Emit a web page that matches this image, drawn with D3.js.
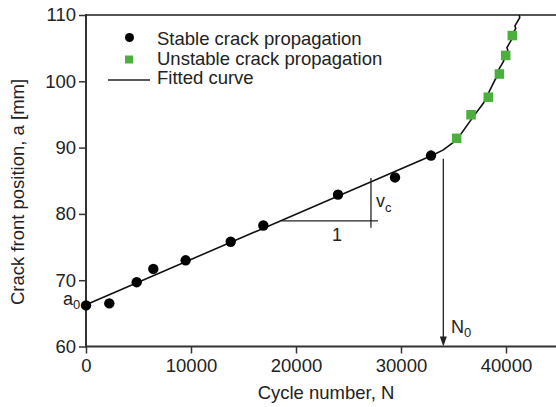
<!DOCTYPE html>
<html>
<head>
<meta charset="utf-8">
<script src="https://cdn.jsdelivr.net/npm/d3@7"></script>
<style>
  body { margin: 0; background: #fff; }
  text { font-family: "Liberation Sans", Arial, sans-serif; fill: #222; }
</style>
</head>
<body>
<div id="chart"></div>
<script>
// stable crack propagation (black dots)
const stableN = [0, 2220, 4830, 6410, 9490, 13780, 16890, 24000, 29430, 32860];
const stableA = [66.2, 66.5, 69.7, 71.7, 73.0, 75.8, 78.25, 82.9, 85.5, 88.8];

// unstable crack propagation (green squares)
const unstableN = [35300, 36670, 38310, 39370, 39970, 40600];
const unstableA = [91.4, 94.95, 97.6, 101.1, 103.9, 106.9];

// fitted curve, read point by point
const fitN = [0, 33000, 34030, 35300, 36890, 37840, 38480, 38950,
              39410, 39330, 39790, 39710, 40170, 40090, 40550, 40470, 40930, 40850, 41310, 41260];
const fitA = [66.3, 88.84, 89.65, 91.16, 94.67, 96.69, 98.7, 100.2,
              101.45, 101.83, 103.08, 103.46, 104.71, 105.09, 106.34, 106.72, 107.97, 108.35, 109.6, 110];

const xTicks = [0, 10000, 20000, 30000, 40000];
const yTicks = [60, 70, 80, 90, 100, 110];
const legendLabels = ["Stable crack propagation", "Unstable crack propagation", "Fitted curve"];

// slope triangle and N0 arrow, in data units
const slopeH = [[18640, 78.95], [27810, 78.95]];
const slopeV = [[27140, 85.43], [27140, 77.9]];
const arrowN0 = [[34030, 88.3], [34030, 60]];

function init() {
    const width = 556, height = 407;
    const margin = { top: 15, left: 86, bottom: 60.5 };

    const x = d3.scaleLinear().domain([0, 45000]).range([margin.left, margin.left + 472.5]);
    const y = d3.scaleLinear().domain([60, 110]).range([height - margin.bottom, margin.top]);

    const svg = d3.select("#chart").append("svg")
        .attr("width", width).attr("height", height);

    const ink = "#333";

    // top frame line
    svg.append("line")
        .attr("x1", x(0)).attr("x2", width)
        .attr("y1", y(110)).attr("y2", y(110))
        .attr("stroke", "#555").attr("stroke-width", 2);

    // x axis
    const gx = svg.append("g").attr("transform", `translate(0,${y(60)})`);
    gx.call(d3.axisBottom(x).tickValues(d3.range(0, 45001, 5000)).tickSize(4).tickFormat(""));
    gx.call(d3.axisBottom(x).tickValues(xTicks).tickSize(7).tickPadding(5).tickFormat(d3.format("d")));
    gx.selectAll(".domain").remove();
    gx.append("line").attr("x1", x(0) - 1).attr("x2", width).attr("stroke", ink).attr("stroke-width", 2);

    // y axis
    const gy = svg.append("g").attr("transform", `translate(${x(0)},0)`);
    gy.call(d3.axisLeft(y).tickValues(d3.range(60, 111, 5)).tickSize(4).tickFormat(""));
    gy.call(d3.axisLeft(y).tickValues(yTicks).tickSize(7).tickPadding(3).tickFormat(d3.format("d")));
    gy.selectAll(".domain").remove();
    gy.append("line").attr("y1", y(60) + 1).attr("y2", y(110) - 1).attr("stroke", ink).attr("stroke-width", 2);

    svg.selectAll(".tick line").attr("stroke", ink).attr("stroke-width", 1.5);
    svg.selectAll(".tick text").style("font-size", "18.5px").attr("fill", "#222")
        .style("font-family", '"Liberation Sans", Arial, sans-serif');

    // axis titles
    svg.append("text")
        .attr("x", 326).attr("y", 399)
        .attr("text-anchor", "middle").style("font-size", "18.5px")
        .text("Cycle number, N");

    svg.append("text")
        .attr("transform", "rotate(-90)")
        .attr("x", -192).attr("y", 24)
        .attr("text-anchor", "middle").style("font-size", "18.5px")
        .text("Crack front position, a [mm]");

    // fitted curve
    const fit = fitN.map((n, i) => [n, fitA[i]]);
    svg.append("path")
        .datum(fit)
        .attr("fill", "none").attr("stroke", "#111").attr("stroke-width", 1.6)
        .attr("d", d3.line().x(d => x(d[0])).y(d => y(d[1])));

    // stable points
    svg.selectAll("circle.stable")
        .data(stableN.map((n, i) => [n, stableA[i]]))
        .enter().append("circle")
        .attr("class", "stable")
        .attr("cx", d => x(d[0])).attr("cy", d => y(d[1]))
        .attr("r", 5.2).attr("fill", "#000");

    // unstable points
    const sq = 9.5;
    svg.selectAll("rect.unstable")
        .data(unstableN.map((n, i) => [n, unstableA[i]]))
        .enter().append("rect")
        .attr("class", "unstable")
        .attr("x", d => x(d[0]) - sq / 2).attr("y", d => y(d[1]) - sq / 2)
        .attr("width", sq).attr("height", sq)
        .attr("fill", "#4cae3c");

    // slope triangle
    const seg = d3.line().x(d => x(d[0])).y(d => y(d[1]));
    [slopeH, slopeV].forEach(s => {
        svg.append("path").attr("d", seg(s)).attr("stroke", "#222").attr("stroke-width", 1.3);
    });
    const vc = svg.append("text").attr("x", 376).attr("y", 207).style("font-size", "18px");
    vc.append("tspan").text("v");
    vc.append("tspan").attr("dy", 5).style("font-size", "13px").text("c");
    svg.append("text").attr("x", 337).attr("y", 241).attr("text-anchor", "middle")
        .style("font-size", "18px").text("1");

    // N0 arrow
    svg.append("path").attr("d", seg(arrowN0.map((p, i) => i ? [p[0], p[1] + 1.2] : p)))
        .attr("stroke", "#222").attr("stroke-width", 1.3);
    const ax = x(arrowN0[1][0]), ay = y(arrowN0[1][1]);
    svg.append("path")
        .attr("d", `M${ax},${ay} L${ax - 3.5},${ay - 10} L${ax + 3.5},${ay - 10} Z`)
        .attr("fill", "#222");
    const n0 = svg.append("text").attr("x", 451).attr("y", 333).style("font-size", "18px");
    n0.append("tspan").text("N");
    n0.append("tspan").attr("dy", 4).style("font-size", "13px").text("0");

    // a0 label
    const a0 = svg.append("text").attr("x", 63).attr("y", 305).style("font-size", "18px");
    a0.append("tspan").text("a");
    a0.append("tspan").attr("dy", 3.5).style("font-size", "13px").text("0");

    // legend
    const lg = svg.append("g");
    lg.append("circle").attr("cx", 129.5).attr("cy", 37.5).attr("r", 4.5).attr("fill", "#000");
    lg.append("rect").attr("x", 125).attr("y", 55.5).attr("width", 8).attr("height", 8).attr("fill", "#4cae3c");
    lg.append("line").attr("x1", 108).attr("x2", 150).attr("y1", 80).attr("y2", 80)
        .attr("stroke", "#222").attr("stroke-width", 1.6);
    legendLabels.forEach((t, i) => {
        lg.append("text").attr("x", 157).attr("y", 45 + i * 19.5)
            .style("font-size", "18.5px").text(t);
    });
}

window.onload = init;
</script>
</body>
</html>
